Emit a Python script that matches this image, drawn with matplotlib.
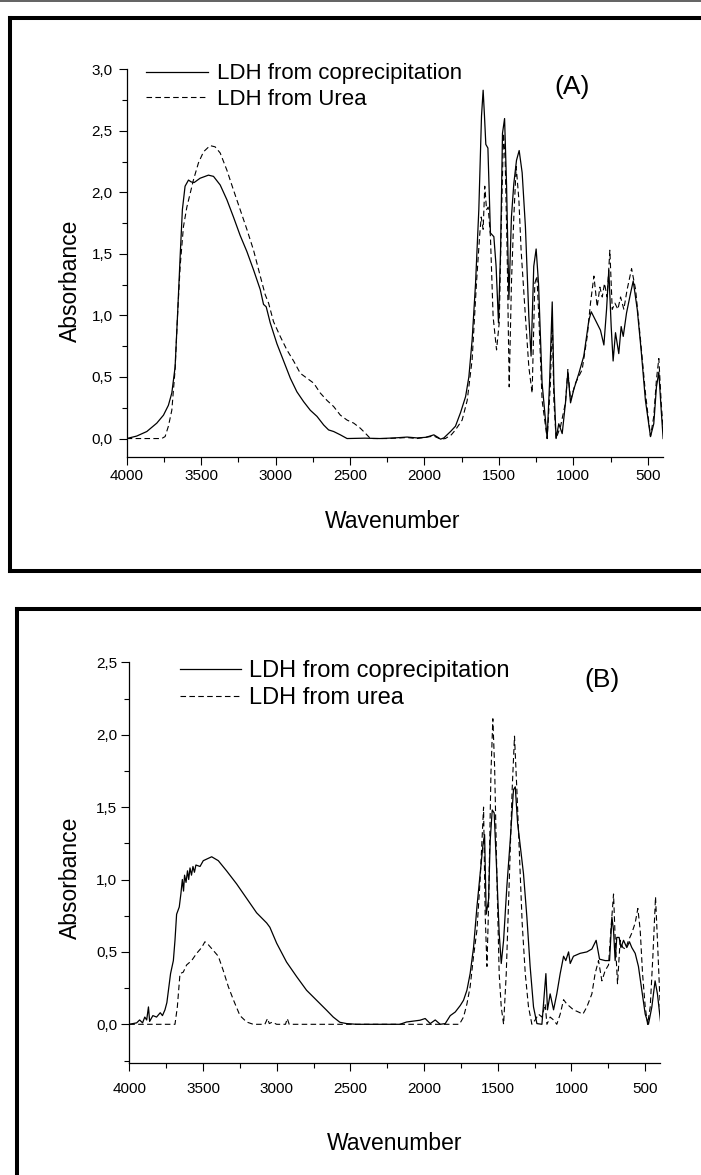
import matplotlib
matplotlib.use('Agg')
import matplotlib.pyplot as plt
from matplotlib.lines import Line2D
from matplotlib.ticker import MultipleLocator, FuncFormatter

plt.rcParams['font.family'] = ['Liberation Sans', 'DejaVu Sans']

# ---- panel A : IR spectra (wavenumber, absorbance) ----
a_cop_wn = [4000, 3933, 3865, 3798, 3753, 3720, 3697, 3675, 3659, 3641, 3626, 3608, 3585, 3567,
            3547, 3507, 3451, 3417, 3372, 3327, 3283, 3238, 3193, 3148, 3103, 3081, 3063, 3036,
            2991, 2946, 2901, 2857, 2812, 2767, 2722, 2677, 2644, 2610, 2565, 2520, 2400, 2300,
            2200, 2117, 2050, 1990, 1937, 1910, 1892, 1870, 1825, 1792, 1758, 1724, 1702, 1680,
            1657, 1635, 1617, 1606, 1597, 1588, 1574, 1557, 1534, 1519, 1503, 1489, 1476, 1462,
            1449, 1433, 1416, 1400, 1382, 1364, 1344, 1322, 1299, 1284, 1266, 1250, 1234, 1210,
            1176, 1160, 1142, 1131, 1116, 1098, 1075, 1053, 1037, 1019, 997, 963, 930, 896, 880,
            851, 818, 795, 777, 762, 746, 733, 717, 695, 679, 665, 643, 616, 598, 571, 545, 516,
            482, 460, 442, 426, 410, 397]
a_cop_abs = [0, 0.02, 0.057, 0.125, 0.19, 0.27, 0.37, 0.58, 0.99, 1.48, 1.86, 2.05, 2.10, 2.085,
             2.08, 2.115, 2.14, 2.13, 2.06, 1.94, 1.80, 1.65, 1.52, 1.37, 1.21, 1.09, 1.07, 0.94,
             0.77, 0.63, 0.49, 0.38, 0.30, 0.23, 0.18, 0.11, 0.07, 0.057, 0.03, 0, 0.003, 0.0,
             0.005, 0.012, 0.005, 0.01, 0.03, 0.01, -0.005, 0.005, 0.057, 0.10, 0.21, 0.34, 0.50, 0.80,
             1.26, 1.86, 2.62, 2.83, 2.62, 2.39, 2.36, 1.67, 1.64, 1.40, 0.94, 1.53, 2.48, 2.60,
             2.07, 1.13, 1.80, 2.07, 2.26, 2.34, 2.16, 1.72, 0.99, 0.67, 1.40, 1.54, 1.26, 0.45,
             0.0, 0.45, 1.11, 0.45, 0.0, 0.12, 0.04, 0.29, 0.54, 0.29, 0.40, 0.53, 0.67, 0.96, 1.03,
             0.96, 0.88, 0.76, 1.05, 1.37, 0.91, 0.63, 0.86, 0.69, 0.91, 0.83, 1.02, 1.18, 1.28, 1.05, 0.72, 0.31,
             0.016, 0.12, 0.42, 0.54, 0.23, 0.0]

a_urea_wn = [4000, 3765, 3742, 3720, 3697, 3675, 3659, 3641, 3619, 3596, 3574, 3552, 3518, 3484,
             3440, 3406, 3372, 3327, 3283, 3238, 3193, 3148, 3103, 3070, 3047, 3014, 2969, 2924,
             2879, 2834, 2789, 2744, 2700, 2655, 2610, 2565, 2520, 2475, 2431, 2397, 2363, 2250,
             2117, 2050, 1937, 1892, 1860, 1820, 1792, 1747, 1713, 1680, 1651, 1630, 1619, 1606,
             1595, 1583, 1572, 1557, 1539, 1516, 1498, 1483, 1469, 1458, 1445, 1431, 1416, 1400,
             1384, 1366, 1351, 1322, 1299, 1277, 1259, 1245, 1232, 1210, 1176, 1154, 1142, 1131,
             1116, 1086, 1053, 1037, 1019, 986, 941, 907, 885, 862, 840, 822, 806, 791, 773, 755,
             739, 721, 701, 683, 661, 639, 609, 582, 549, 516, 482, 460, 442, 426, 410, 397]
a_urea_abs = [0, 0, 0.016, 0.10, 0.23, 0.56, 0.99, 1.40, 1.72, 1.88, 1.99, 2.10, 2.24, 2.33,
              2.38, 2.37, 2.32, 2.18, 2.02, 1.86, 1.70, 1.53, 1.32, 1.17, 1.10, 0.95, 0.83, 0.72,
              0.63, 0.53, 0.49, 0.45, 0.37, 0.31, 0.26, 0.19, 0.15, 0.125, 0.084, 0.043, 0, 0.0,
              0.008, 0.0, 0.02, -0.005, 0.0, 0.03, 0.07, 0.15, 0.31, 0.64, 1.26, 1.64, 1.80, 1.70,
              2.05, 1.86, 1.88, 1.64, 0.99, 0.72, 0.94, 1.80, 2.48, 2.26, 1.53, 0.42, 1.26, 1.80,
              2.21, 1.94, 1.53, 0.99, 0.58, 0.37, 1.26, 1.32, 0.99, 0.31, 0, 0.45, 0.99, 0.31,
              0, 0.10, 0.29, 0.56, 0.31, 0.45, 0.56, 0.83, 1.10, 1.32, 1.07, 1.23, 1.15, 1.26, 1.15, 1.53,
              1.05, 1.10, 1.05, 1.15, 1.05, 1.21, 1.38, 1.21, 0.80, 0.37, 0.016, 0.18, 0.48, 0.65, 0.29, 0.07]

# ---- panel B ----
b_cop_wn = [4000, 3975, 3950, 3930, 3910, 3895, 3882, 3870, 3862, 3840, 3815, 3790, 3775, 3758,
            3745, 3735, 3720, 3701, 3690, 3679, 3661, 3650, 3640, 3632, 3625, 3615, 3605, 3597,
            3588, 3578, 3568, 3558, 3548, 3520, 3498, 3441, 3396, 3340, 3272, 3204, 3136, 3068,
            3046, 3000, 2933, 2865, 2797, 2729, 2661, 2616, 2571, 2526, 2458, 2300, 2164, 2118,
            2028, 1992, 1958, 1924, 1890, 1856, 1822, 1788, 1754, 1732, 1709, 1687, 1664, 1641,
            1619, 1601, 1589, 1578, 1562, 1551, 1537, 1524, 1506, 1490, 1476, 1460, 1438, 1415,
            1393, 1381, 1365, 1347, 1325, 1302, 1280, 1257, 1234, 1200, 1173, 1162, 1144, 1121,
            1099, 1076, 1053, 1038, 1019, 1008, 986, 941, 895, 861, 832, 809, 771, 741, 725, 714,
            703, 692, 676, 664, 646, 624, 606, 590, 567, 545, 522, 499, 477, 454, 432, 416, 393]
b_cop_abs = [0, 0.005, 0.01, 0.03, 0.01, 0.05, 0.03, 0.12, 0.02, 0.06, 0.05, 0.08, 0.06, 0.10,
             0.15, 0.23, 0.35, 0.44, 0.58, 0.76, 0.81, 0.90, 1.00, 0.92, 1.03, 0.98, 1.06, 1.00,
             1.08, 1.03, 1.09, 1.05, 1.10, 1.09, 1.13, 1.157, 1.13, 1.06, 0.97, 0.87, 0.77, 0.70,
             0.67, 0.56, 0.43, 0.33, 0.235, 0.166, 0.097, 0.05, 0.014, 0.005, 0, 0, 0, 0.016,
             0.028, 0.04, 0.005, 0.03, 0.0, 0.005, 0.06, 0.085, 0.13, 0.166, 0.235, 0.35, 0.53, 0.81,
             1.04, 1.23, 1.31, 0.76, 0.86, 1.27, 1.48, 1.46, 1.04, 0.63, 0.42, 0.58, 0.95, 1.27,
             1.62, 1.64, 1.39, 1.23, 1.04, 0.74, 0.40, 0.12, 0.005, 0, 0.35, 0.10, 0.21, 0.10,
             0.21, 0.35, 0.47, 0.44, 0.50, 0.42, 0.47, 0.49, 0.50, 0.52, 0.58, 0.45, 0.44, 0.44, 0.74, 0.65,
             0.44, 0.60, 0.60, 0.53, 0.58, 0.53, 0.57, 0.53, 0.49, 0.40, 0.235, 0.07, 0, 0.12, 0.30, 0.21, 0]

b_urea_wn = [4000, 3690, 3674, 3656, 3634, 3611, 3577, 3543, 3509, 3487, 3464, 3430, 3396, 3362,
             3328, 3294, 3249, 3204, 3159, 3080, 3062, 3050, 3030, 3000, 2940, 2928, 2915, 1760,
             1732, 1709, 1687, 1664, 1641, 1619, 1596, 1585, 1573, 1562, 1546, 1533, 1521, 1506,
             1490, 1476, 1460, 1442, 1420, 1402, 1386, 1370, 1352, 1334, 1313, 1291, 1268, 1246,
             1223, 1200, 1178, 1166, 1144, 1121, 1099, 1076, 1053, 1031, 1008, 986, 952, 922, 895,
             861, 839, 816, 793, 771, 748, 732, 714, 703, 687, 669, 651, 633, 612, 590, 567, 549,
             533, 517, 499, 483, 465, 447, 429, 416, 397]
b_urea_abs = [0, 0, 0.12, 0.35, 0.36, 0.41, 0.44, 0.49, 0.53, 0.57, 0.55, 0.51, 0.47, 0.37,
              0.26, 0.17, 0.06, 0.016, 0, 0, 0.04, 0.005, 0.015, 0, 0, 0.04, 0, 0,
              0.05, 0.14, 0.26, 0.47, 0.65, 1.00, 1.50, 0.76, 0.40, 0.81, 1.73, 2.11, 1.78, 1.04,
              0.35, 0.12, 0, 0.35, 1.04, 1.62, 1.99, 1.62, 1.16, 0.70, 0.35, 0.12, 0, 0.03,
              0.07, 0.05, 0.14, 0, 0.05, 0.03, 0, 0.07, 0.17, 0.14, 0.12, 0.10, 0.085, 0.07, 0.12,
              0.21, 0.35, 0.44, 0.30, 0.37, 0.41, 0.65, 0.90, 0.60, 0.28, 0.58, 0.53, 0.52, 0.58, 0.63, 0.70, 0.80,
              0.65, 0.35, 0.12, 0, 0.12, 0.47, 0.88, 0.58, 0.12]

W, H = 701, 1175
fig = plt.figure(figsize=(W / 100, H / 100), dpi=100)


def fx(px):
    return px / W


def fy(py):
    return 1 - py / H


dash = (0, (5, 3))
comma = FuncFormatter(lambda v, p: f'{v:.1f}'.replace('.', ','))


def setup(ax, ylim, xpad, ypad):
    ax.set_xlim(4000, 400)
    ax.set_ylim(*ylim)
    for s in ['top', 'right']:
        ax.spines[s].set_visible(False)
    for s in ['left', 'bottom']:
        ax.spines[s].set_linewidth(0.9)
    ax.xaxis.set_major_locator(MultipleLocator(500))
    ax.xaxis.set_minor_locator(MultipleLocator(250))
    ax.yaxis.set_major_locator(MultipleLocator(0.5))
    ax.yaxis.set_minor_locator(MultipleLocator(0.25))
    ax.yaxis.set_major_formatter(comma)
    ax.tick_params(which='major', direction='out', length=5.8, width=0.8, labelsize=11)
    ax.tick_params(which='minor', direction='out', length=3.6, width=0.8)
    ax.tick_params(axis='x', pad=xpad)
    ax.tick_params(axis='y', pad=ypad)


# panel A
axA = fig.add_axes([fx(126.7), fy(457), fx(536), 387.7 / H])
axA.plot(a_cop_wn, a_cop_abs, color='black', lw=0.9, label='LDH from coprecipitation')
axA.plot(a_urea_wn, a_urea_abs, color='black', lw=0.8, linestyle=dash, label='LDH from Urea')
setup(axA, (-0.15, 3.0), 3.2, 4.2)
axA.set_xlabel('Wavenumber', fontsize=16.5)
axA.xaxis.label.set_va('center')
axA.xaxis.set_label_coords((393 - 126.7) / 536, -(521 - 457) / 387.7)
axA.set_ylabel('Absorbance', fontsize=16.5)
axA.yaxis.label.set_va('center')
axA.yaxis.set_label_coords((70 - 126.7) / 536, 1 - (281 - 69.3) / 387.7)
axA.legend(loc='upper left', bbox_to_anchor=(0.036, 1.015), frameon=False, fontsize=16,
           borderpad=0, borderaxespad=0, handlelength=2.8, handletextpad=0.4, labelspacing=0.2)
fig.text(fx(572), fy(87), '(A)', fontsize=19, ha='center', va='center')

# panel B
axB = fig.add_axes([fx(129.3), fy(1063.4), fx(530.5), 401.1 / H])
axB.plot(b_cop_wn, b_cop_abs, color='black', lw=0.9, label='LDH from coprecipitation')
axB.plot(b_urea_wn, b_urea_abs, color='black', lw=0.8, linestyle=dash, label='LDH from urea')
setup(axB, (-0.27, 2.5), 7.5, 3)
axB.set_xlabel('Wavenumber', fontsize=16.5)
axB.xaxis.label.set_va('center')
axB.xaxis.set_label_coords((395 - 129.3) / 530.5, -(1143 - 1063.4) / 401.1)
axB.set_ylabel('Absorbance', fontsize=16.5)
axB.yaxis.label.set_va('center')
axB.yaxis.set_label_coords((70 - 129.3) / 530.5, 1 - (878 - 662.3) / 401.1)
axB.legend(loc='upper left', bbox_to_anchor=(0.0956, 1.0055), frameon=False, fontsize=17,
           borderpad=0, borderaxespad=0, handlelength=2.6, handletextpad=0.32, labelspacing=0.2)
fig.text(fx(601.7), fy(680.5), '(B)', fontsize=19, ha='center', va='center')

# frames around the two panels and the thin rule at the top
bw = 2.9
frame = [
    ([0, 701], [1, 1], 1.3, '#555555'),
    ([10, 10], [18, 571.5], bw, 'black'),
    ([10, 705], [18, 18], bw, 'black'),
    ([10, 705], [571.5, 571.5], bw, 'black'),
    ([17, 17], [609, 1180], bw, 'black'),
    ([17, 705], [609, 609], bw, 'black'),
]
for xs, ys, lw, c in frame:
    fig.add_artist(Line2D([fx(v) for v in xs], [fy(v) for v in ys], lw=lw, color=c,
                          solid_capstyle='projecting'))

fig.savefig('out.png', dpi=100)
